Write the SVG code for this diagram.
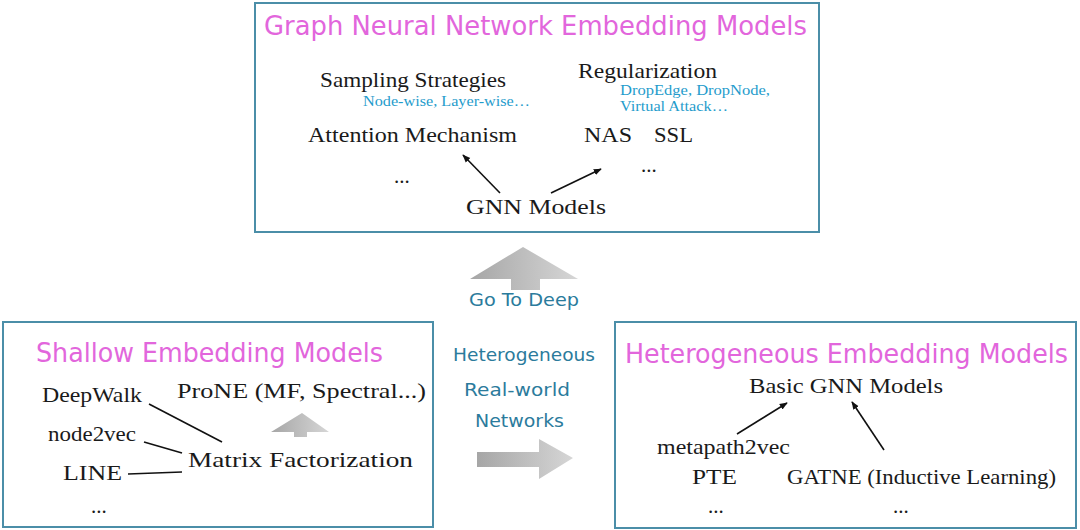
<svg xmlns="http://www.w3.org/2000/svg" width="1080" height="530" viewBox="0 0 1080 530">
<defs>
<style>
.box{fill:#ffffff;stroke:#4b8ea8;stroke-width:2}
.title{font-family:"DejaVu Sans",sans-serif;font-size:26px;fill:#e266dc}
.serif{font-family:"Liberation Serif",serif;font-size:21px;fill:#1a1a1a}
.small{font-family:"Liberation Serif",serif;font-size:14.5px;fill:#1f9ccc}
.side{font-family:"DejaVu Sans",sans-serif;font-size:17.5px;fill:#2b7b9c}
.edge{stroke:#111;stroke-width:1.6;fill:none}
.arr{marker-end:url(#ah)}
.gray{fill:url(#gg)}
</style>
<marker id="ah" viewBox="0 0 10 10" refX="9" refY="5" markerWidth="8" markerHeight="8" markerUnits="userSpaceOnUse" orient="auto">
<path d="M0,1 L10,5 L0,9 Z" fill="#111"/>
</marker>
<linearGradient id="gg" x1="0" y1="0" x2="1" y2="0">
<stop offset="0" stop-color="#a6a6a6"/>
<stop offset="1" stop-color="#d6d6d6"/>
</linearGradient>
</defs>
<rect width="1080" height="530" fill="#ffffff"/>

<g id="gnn-box">
<rect class="box" x="255" y="3" width="564" height="229"/>
<text class="title" x="264" y="35" textLength="543" lengthAdjust="spacingAndGlyphs">Graph Neural Network Embedding Models</text>
<text class="serif" x="320" y="87" textLength="186" lengthAdjust="spacingAndGlyphs">Sampling Strategies</text>
<text class="small" x="363" y="106" textLength="167" lengthAdjust="spacingAndGlyphs">Node-wise, Layer-wise…</text>
<text class="serif" x="578" y="78" textLength="139" lengthAdjust="spacingAndGlyphs">Regularization</text>
<text class="small" x="620" y="95" textLength="150" lengthAdjust="spacingAndGlyphs">DropEdge, DropNode,</text>
<text class="small" x="620" y="111" textLength="108" lengthAdjust="spacingAndGlyphs">Virtual Attack…</text>
<text class="serif" x="308" y="142" textLength="209" lengthAdjust="spacingAndGlyphs">Attention Mechanism</text>
<text class="serif" x="584" y="142" textLength="48" lengthAdjust="spacingAndGlyphs">NAS</text>
<text class="serif" x="654" y="142" textLength="39" lengthAdjust="spacingAndGlyphs">SSL</text>
<text class="serif" x="394" y="183" font-size="16">...</text>
<text class="serif" x="641" y="172" font-size="16">...</text>
<text class="serif" x="466" y="214" textLength="140" lengthAdjust="spacingAndGlyphs">GNN Models</text>
</g>

<g id="go-deep">
<polygon class="gray" points="523,247 578,279 540,279 540,290 511,290 511,279 470,279"/>
<text class="side" x="469" y="306" textLength="110" lengthAdjust="spacingAndGlyphs">Go To Deep</text>
</g>

<g id="hetero-label">
<text class="side" x="453" y="361" textLength="142" lengthAdjust="spacingAndGlyphs">Heterogeneous</text>
<text class="side" x="464" y="396" textLength="106" lengthAdjust="spacingAndGlyphs">Real-world</text>
<text class="side" x="475" y="427" textLength="89" lengthAdjust="spacingAndGlyphs">Networks</text>
<polygon class="gray" points="477,452 539,452 539,439 573,458 539,479 539,467 477,467"/>
</g>

<g id="shallow-box">
<rect class="box" x="3" y="322" width="430" height="205"/>
<text class="title" x="36" y="362" textLength="347" lengthAdjust="spacingAndGlyphs">Shallow Embedding Models</text>
<text class="serif" x="42" y="402" textLength="100" lengthAdjust="spacingAndGlyphs">DeepWalk</text>
<text class="serif" x="177" y="398" textLength="249" lengthAdjust="spacingAndGlyphs">ProNE (MF, Spectral...)</text>
<text class="serif" x="48" y="441" font-size="18" textLength="88" lengthAdjust="spacingAndGlyphs">node2vec</text>
<text class="serif" x="188" y="467" textLength="225" lengthAdjust="spacingAndGlyphs">Matrix Factorization</text>
<text class="serif" x="63" y="480" textLength="59" lengthAdjust="spacingAndGlyphs">LINE</text>
<text class="serif" x="91" y="513" font-size="16">...</text>
<polygon class="gray" points="302,413 329,432 307,432 307,437 294,437 294,432 271,432"/>
</g>

<g id="hetero-box">
<rect class="box" x="615" y="322" width="461" height="206"/>
<text class="title" x="625" y="363" textLength="443" lengthAdjust="spacingAndGlyphs">Heterogeneous Embedding Models</text>
<text class="serif" x="749" y="393" textLength="194" lengthAdjust="spacingAndGlyphs">Basic GNN Models</text>
<text class="serif" x="657" y="454" font-size="19" textLength="133" lengthAdjust="spacingAndGlyphs">metapath2vec</text>
<text class="serif" x="692" y="484" textLength="45" lengthAdjust="spacingAndGlyphs">PTE</text>
<text class="serif" x="787" y="484" textLength="269" lengthAdjust="spacingAndGlyphs">GATNE (Inductive Learning)</text>
<text class="serif" x="708" y="513" font-size="16">...</text>
<text class="serif" x="893" y="513" font-size="16">...</text>
</g>

<g id="connectors">
<line class="edge arr" x1="500" y1="193" x2="463" y2="155"/>
<line class="edge arr" x1="551" y1="193" x2="601" y2="169"/>
<line class="edge" x1="149" y1="404" x2="222" y2="442"/>
<line class="edge" x1="144" y1="442" x2="182" y2="453"/>
<line class="edge" x1="128" y1="474" x2="182" y2="472"/>
<line class="edge arr" x1="737" y1="434" x2="787" y2="403"/>
<line class="edge arr" x1="884" y1="450" x2="852" y2="402"/>
</g>
</svg>
